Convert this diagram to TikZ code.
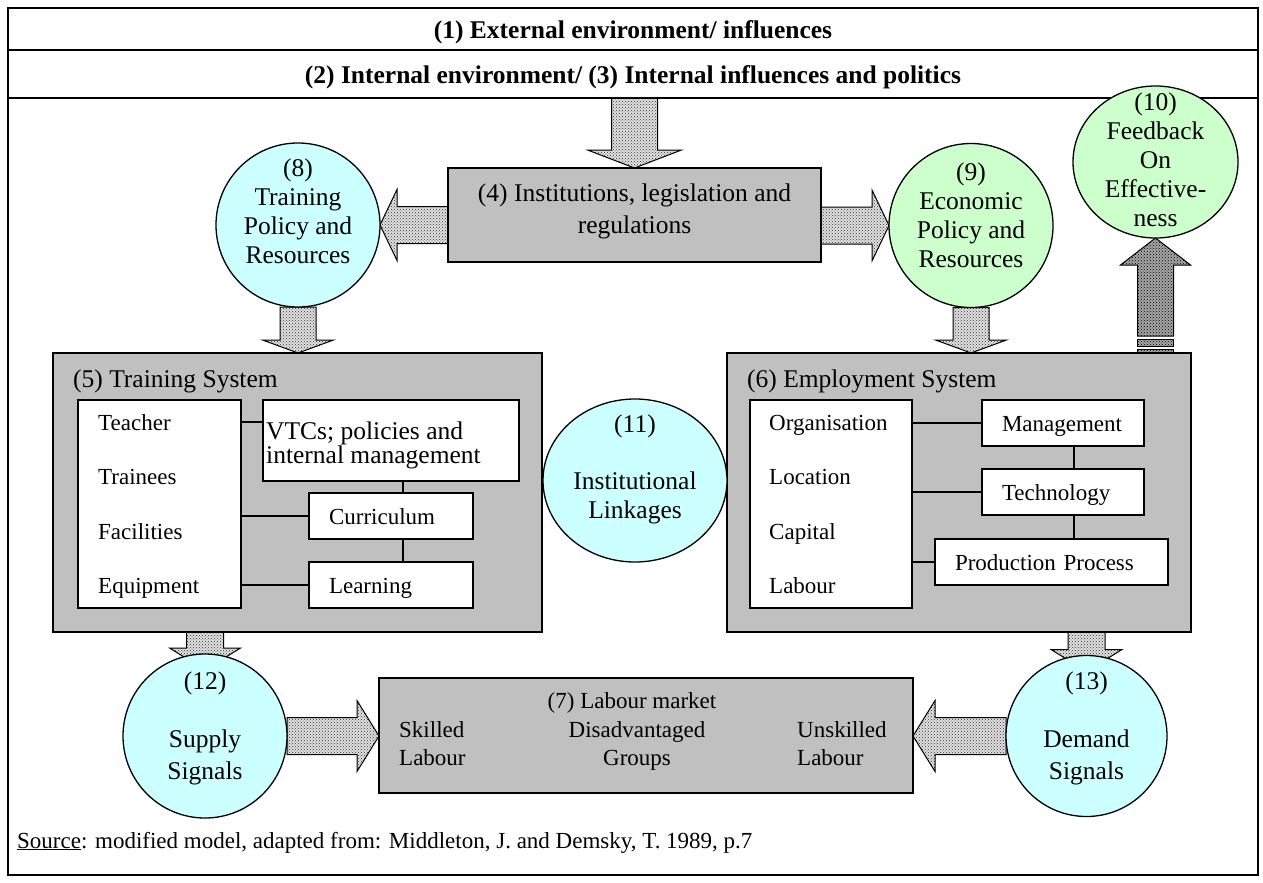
\documentclass[tikz,border=0pt]{standalone}
\usepackage{fontspec}
\setmainfont{Liberation Serif}
\usetikzlibrary{calc,backgrounds,shapes.geometric,patterns}
\definecolor{boxgray}{HTML}{C0C0C0}
\definecolor{cyanfill}{HTML}{CCFFFF}
\definecolor{greenfill}{HTML}{CCFFCC}
\newcommand{\bigfont}{\fontsize{25.5}{29}\selectfont}
\newcommand{\smallfont}{\fontsize{23}{27}\selectfont}
\newcommand{\vtcfont}{\fontsize{25.5}{23.5}\selectfont}
\newcommand{\blockarrow}[6]{%
  \coordinate (ba-b) at ($(#3)!#6!(#2)$);
  \draw[#1] ($(#2)!#4!90:(#3)$) -- ($(ba-b)!#4!90:(#3)$) -- ($(ba-b)!#5!90:(#3)$) -- (#3)
    -- ($(ba-b)!#5!-90:(#3)$) -- ($(ba-b)!#4!-90:(#3)$) -- ($(#2)!#4!-90:(#3)$) -- cycle;}
\begin{document}
\begin{tikzpicture}[x=1pt,y=-1pt,
  gbox/.style={draw, line width=1.3pt, fill=boxgray, inner sep=0pt, outer sep=0pt},
  wbox/.style={draw, line width=1.3pt, fill=white, inner sep=0pt, outer sep=0pt},
  sbox/.style={draw, line width=1.3pt, fill=white, inner xsep=20pt, inner ysep=0pt, outer sep=0pt, align=left, minimum height=46pt, font=\smallfont, anchor=west, text height=16pt, text depth=0pt},
  ccirc/.style={draw, line width=1.3pt, circle, fill=cyanfill, inner sep=0pt, outer sep=0pt, minimum size=164pt},
  gcirc/.style={draw, line width=1.3pt, circle, fill=greenfill, inner sep=0pt, outer sep=0pt, minimum size=164pt},
  ctext/.style={anchor=north, inner sep=0pt, align=center, font=\bigfont},
  item/.style={anchor=base west, inner sep=0pt, font=\smallfont},
  title/.style={anchor=base west, inner sep=0pt, font=\bigfont},
  hdr/.style={draw, line width=1.3pt, minimum width=1250pt, inner sep=0pt, outer sep=0pt, font=\bfseries\bigfont, text height=20pt, text depth=1pt},
  link/.style={line width=1.3pt},
  barrow/.style={draw, line width=1pt, preaction={fill=black!12}, pattern=crosshatch dots, pattern color=black!80},
  darrow/.style={draw, line width=1pt, preaction={fill=black!35}, pattern=crosshatch dots, pattern color=black},
]
\useasboundingbox (0,0) rectangle (1263,883);
\draw[line width=1.5pt] (8,8) rectangle (1258,875);

% headers
\node[hdr, minimum height=42pt] (h1) at (633,29) {(1) External environment/ influences};
\node[hdr, minimum height=48pt] (h2) at (633,74) {(2) Internal environment/ (3) Internal influences and politics};

% box 4
\node[gbox, minimum width=373pt, minimum height=94pt] (b4) at (634.5,215) {};
\node[ctext, font=\fontsize{25.5}{32}\selectfont] (t4) at (634.5,184) {(4) Institutions, legislation and\\regulations};

% circles 8, 9, 10
\node[ccirc] (c8) at (298,225) {};
\node[ctext] (c8t) at (298,159) {(8)\\Training\\Policy and\\Resources};
\node[gcirc] (c9) at (971,225.5) {};
\node[ctext] (c9t) at (971,163) {(9)\\Economic\\Policy and\\Resources};
\node[draw, line width=1.3pt, ellipse, fill=greenfill, inner sep=0pt, outer sep=0pt, minimum width=165pt, minimum height=152pt] (c10) at (1155.5,162) {};
\node[ctext] (c10t) at (1155.5,93) {(10)\\Feedback\\On\\Effective-\\ness};

% box 5 training system
\node[gbox, minimum width=489pt, minimum height=279pt] (b5) at (297.5,492.5) {};
\node[title] (t5) at (73,387) {(5) Training System};
\node[wbox, minimum width=163pt, minimum height=208pt] (in5) at (159.5,504) {};
\node[item] (teach) at (98,430) {Teacher};
\node[item] (train) at (98,484) {Trainees};
\node[item] (facil) at (98,539) {Facilities};
\node[item] (equip) at (98,593) {Equipment};
\node[wbox, minimum width=256pt, minimum height=81pt] (vtc) at (391,440.5) {};
\node[anchor=north west, inner sep=0pt, align=left, font=\vtcfont] (vtct) at (266,422) {VTCs; policies and\\internal management};
\node[sbox, text width=124pt] (cur) at (309,516) {Curriculum};
\node[sbox, text width=124pt] (lrn) at (309,585) {Learning};
\coordinate (v5) at (403,0);
\draw[link] (in5.east |- teach) -- (vtc.west |- teach);
\draw[link] (in5.east |- cur.west) -- (cur.west);
\draw[link] (in5.east |- lrn.west) -- (lrn.west);
\draw[link] (vtc.south -| v5) -- (cur.north -| v5);
\draw[link] (cur.south -| v5) -- (lrn.north -| v5);

% box 6 employment system
\node[gbox, minimum width=464pt, minimum height=279pt] (b6) at (959,492.5) {};
\node[title] (t6) at (747,387) {(6) Employment System};
\node[wbox, minimum width=162pt, minimum height=208pt] (in6) at (831,504) {};
\node[item] (org) at (769,430) {Organisation};
\node[item] (loc) at (769,484) {Location};
\node[item] (cap) at (769,539) {Capital};
\node[item] (lab) at (769,593) {Labour};
\node[sbox, text width=122pt] (mgmt) at (982,423) {Management};
\node[sbox, text width=122pt] (tech) at (982,492) {Technology};
\node[sbox, text width=193pt] (prod) at (935,562) {Production Process};
\coordinate (v6) at (1074,0);
\draw[link] (in6.east |- mgmt.west) -- (mgmt.west);
\draw[link] (in6.east |- tech.west) -- (tech.west);
\draw[link] (in6.east |- prod.west) -- (prod.west);
\draw[link] (mgmt.south -| v6) -- (tech.north -| v6);
\draw[link] (tech.south -| v6) -- (prod.north -| v6);

% circle 11
\node[draw, line width=1.3pt, ellipse, fill=cyanfill, inner sep=0pt, outer sep=0pt, minimum width=184pt, minimum height=163pt] (c11) at (635,480.5) {};
\node[ctext] (c11t) at (635,415) {(11)\\[28pt]Institutional\\Linkages};

% bottom row
\node[ccirc] (c12) at (205,736) {};
\node[ctext] (c12t) at (205,672) {(12)\\[29pt]Supply\\[3pt]Signals};
\node[ccirc, minimum size=161pt] (c13) at (1086.5,736) {};
\node[ctext] (c13t) at (1086.5,672) {(13)\\[29pt]Demand\\[3pt]Signals};
\node[gbox, minimum width=534pt, minimum height=115pt] (b7) at (646,735.5) {};
\node[anchor=base, inner sep=0pt, font=\smallfont] (lm) at (632,708) {(7) Labour market};
\node[item] (sk) at (399,737) {Skilled};
\node[item] (sk2) at (399,765) {Labour};
\node[anchor=base, inner sep=0pt, font=\smallfont] (dg) at (637,737) {Disadvantaged};
\node[anchor=base, inner sep=0pt, font=\smallfont] (gr) at (637,765) {Groups};
\node[item] (us) at (797,737) {Unskilled};
\node[item] (us2) at (797,765) {Labour};

% source
\node[item] (src) at (17,848) {\underline{Source}: modified model, adapted from: Middleton, J. and Demsky, T. 1989, p.7};

% block arrows
\begin{scope}[on background layer]
  \coordinate (a1s) at (b4.north |- h2.south);
  \blockarrow{barrow}{a1s}{b4.north}{23pt}{47pt}{18pt}
  \coordinate (a2s) at (b4.west |- c8.east);
  \blockarrow{barrow}{a2s}{c8.east}{18.5pt}{35.5pt}{17pt}
  \coordinate (a3s) at (b4.east |- c9.west);
  \blockarrow{barrow}{a3s}{c9.west}{18.5pt}{35.5pt}{17pt}
  \coordinate (a4t) at (c8.south |- b5.north);
  \blockarrow{barrow}{c8.south}{a4t}{18pt}{35.5pt}{13pt}
  \coordinate (a5t) at (c9.south |- b6.north);
  \blockarrow{barrow}{c9.south}{a5t}{18pt}{35.5pt}{13pt}
  \coordinate (a6b) at (c10.south |- b6.north);
  \coordinate (a6s) at ($(a6b)+(0,-17)$);
  \blockarrow{darrow}{a6s}{c10.south}{18pt}{35pt}{27pt}
  \draw[darrow] ($(a6b)+(-18,-14)$) rectangle ($(a6b)+(18,-7)$);
  \draw[darrow] ($(a6b)+(-18,-4)$) rectangle ($(a6b)+(18,0)$);
  \coordinate (a7s) at (c12 |- b5.south);
  \coordinate (a7t) at ($(c12.north)+(0,16)$);
  \blockarrow{barrow}{a7s}{a7t}{18.5pt}{35.5pt}{22pt}
  \coordinate (a8s) at (c13 |- b6.south);
  \coordinate (a8t) at ($(c13.north)+(0,16)$);
  \blockarrow{barrow}{a8s}{a8t}{18.5pt}{35.5pt}{22pt}
  \coordinate (a9t) at (b7.west |- c12);
  \blockarrow{barrow}{c12.east}{a9t}{18.5pt}{35.5pt}{22pt}
  \coordinate (a10t) at (b7.east |- c13);
  \blockarrow{barrow}{c13.west}{a10t}{18.5pt}{35.5pt}{22pt}
\end{scope}
\end{tikzpicture}
\end{document}
